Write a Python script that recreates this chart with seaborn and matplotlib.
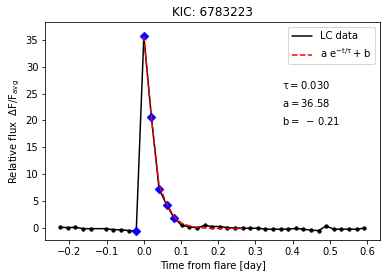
import matplotlib
matplotlib.use('Agg')
import numpy as np
import pandas as pd
import matplotlib.pyplot as plt
from matplotlib.lines import Line2D
import seaborn as sns

# light curve around the flare (time in days from flare peak)
time = [-0.2247, -0.2043, -0.1839, -0.1634, -0.1430, -0.1021, -0.0817, -0.0613,
        -0.0409, -0.0204, 0.0, 0.0204, 0.0409, 0.0613, 0.0817, 0.1021, 0.1226,
        0.1430, 0.1634, 0.1839, 0.2043, 0.2247, 0.2452, 0.2656, 0.2860, 0.3065,
        0.3269, 0.3473, 0.3677, 0.3882, 0.4086, 0.4290, 0.4495, 0.4699, 0.4903,
        0.5108, 0.5312, 0.5516, 0.5721, 0.5925]
flux = [0.05, 0.0, 0.05, -0.2, -0.2, -0.2, -0.4, -0.4, -0.55, -0.65, 35.7,
        20.6, 7.2, 4.25, 1.75, 0.4, 0.15, -0.05, 0.4, 0.2, 0.2, 0.0, -0.1,
        -0.1, -0.15, -0.1, -0.3, -0.3, -0.3, -0.3, -0.15, -0.3, -0.5, -0.55,
        0.3, -0.3, -0.3, -0.3, -0.3, -0.1]

# points used in the fit
fit_pts_t = [-0.0204, 0.0, 0.0204, 0.0409, 0.0613, 0.0817]
fit_pts_f = [-0.65, 35.7, 20.6, 7.2, 4.25, 1.75]

# fitted decay curve as drawn
fit_t = [0.0, 0.0204, 0.0409, 0.0613, 0.0817, 0.1021, 0.1226, 0.1430, 0.1634,
         0.1839, 0.2043, 0.2247, 0.2452, 0.2656]
fit_f = [35.7, 20.3, 7.9, 4.5, 2.0, 0.8, 0.3, 0.05, -0.08, -0.14, -0.18,
         -0.19, -0.2, -0.2]

sns.set_style('ticks')
plt.rcParams.update({'mathtext.default': 'regular', 'text.color': 'black',
                     'axes.labelcolor': 'black', 'xtick.color': 'black',
                     'ytick.color': 'black'})

fig, ax = plt.subplots(figsize=(387 / 72, 278 / 72), dpi=72)

lc = pd.DataFrame({'t': time, 'f': flux})
sns.lineplot(data=lc, x='t', y='f', color='black', marker='o', markersize=3.5,
             markeredgecolor='black', ax=ax)
sns.scatterplot(x=fit_pts_t, y=fit_pts_f, marker='D', color='blue', s=40,
                edgecolor='blue', zorder=3, ax=ax)
sns.lineplot(x=fit_t, y=fit_f, color='red', linestyle='--', zorder=4, ax=ax)

ax.set_xlim(-0.265, 0.635)
ax.set_ylim(-2.3, 38.3)
ax.set_xticks(np.arange(-0.2, 0.61, 0.1))
ax.set_yticks(np.arange(0, 36, 5))
for s in ax.spines.values():
    s.set_visible(True)
    s.set_color('black')

ax.set_xlabel('Time from flare [day]')
ax.set_ylabel(r'Relative flux  $\Delta$F/F$_{avg}$')
ax.set_title('KIC: 6783223')

ax.text(0.372, 26.6, r'$\tau = 0.030$', va='center')
ax.text(0.372, 23.2, r'a$ = 36.58$', va='center')
ax.text(0.372, 19.8, r'b$ =\;-\,0.21$', va='center')

handles = [Line2D([], [], color='black'),
           Line2D([], [], color='red', linestyle='--')]
ax.legend(handles, ['LC data', r'a e$^{-t/\tau}+$b'], loc='upper right')

fig.subplots_adjust(left=0.117, right=0.982, top=0.920, bottom=0.137)
fig.savefig('out.png', dpi=72)
